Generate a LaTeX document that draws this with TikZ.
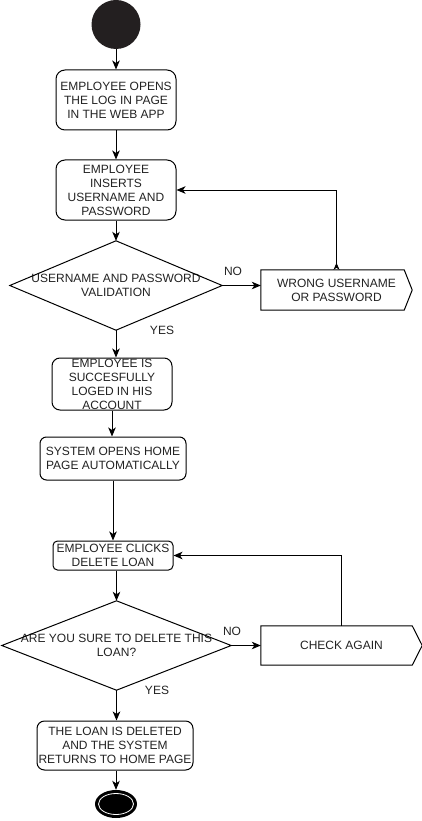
\documentclass[tikz,border=0pt]{standalone}
\usepackage{fontspec}
\setmainfont{Liberation Sans}
\usetikzlibrary{arrows.meta,calc,shapes.geometric}
\definecolor{startfill}{HTML}{231F20}
\definecolor{txt}{HTML}{222222}
\begin{document}
\begin{tikzpicture}[x=1pt,y=-1pt,
  every node/.style={font=\fontsize{12}{14}\selectfont, text=txt},
  act/.style={draw=black, line width=1pt, rounded corners=#1, align=center, inner sep=0pt},
  act/.default=8pt,
  shapebox/.style={align=center, inner sep=0pt},
  outline/.style={draw=black, line width=1pt, line join=miter},
  flow/.style={draw=black, line width=1pt, -{Stealth[length=9pt,width=7.5pt,inset=2.5pt]}},
  lbl/.style={inner sep=0pt}
]
\useasboundingbox (0,0) rectangle (422,821);

% start
\node[circle, fill=startfill, minimum size=49pt, inner sep=0pt] (start) at (116,24.5) {};

% activities
\node[act=9pt, minimum width=120pt, minimum height=60pt] (b1) at (116,100) {EMPLOYEE OPENS\\THE LOG IN PAGE\\IN THE WEB APP};
\node[act=9pt, minimum width=120pt, minimum height=60pt] (b2) at (116,190) {EMPLOYEE\\INSERTS\\USERNAME AND\\PASSWORD};

% decision 1
\node[shapebox, minimum width=212pt, minimum height=89pt] (d1) at (116,285.5) {USERNAME AND PASSWORD\\VALIDATION};
\draw[outline] (d1.north) -- (d1.east) -- (d1.south) -- (d1.west) -- cycle;

% wrong username
\node[shapebox, minimum width=151pt, minimum height=40pt] (w) at (336.5,290) {WRONG USERNAME\\OR PASSWORD};
\draw[outline] (w.north west) -- ([xshift=-8pt]w.north east) -- (w.east) -- ([xshift=-8pt]w.south east) -- (w.south west) -- cycle;

\node[act=8pt, minimum width=120pt, minimum height=52pt] (b3) at (112,384) {EMPLOYEE IS\\SUCCESFULLY\\LOGED IN HIS\\ACCOUNT};
\node[act=6.5pt, minimum width=146pt, minimum height=43pt] (b4) at (113,458.5) {SYSTEM OPENS HOME\\PAGE AUTOMATICALLY};
\node[act=4.5pt, minimum width=120pt, minimum height=29pt] (b5) at (113,555.5) {EMPLOYEE CLICKS\\DELETE LOAN};

% decision 2
\node[shapebox, minimum width=229pt, minimum height=89pt] (d2) at (116.5,645.5) {ARE YOU SURE TO DELETE THIS\\LOAN?};
\draw[outline] (d2.north) -- (d2.east) -- (d2.south) -- (d2.west) -- cycle;

% check again
\node[shapebox, minimum width=161pt, minimum height=39pt] (c) at (341.5,645.5) {CHECK AGAIN};
\draw[outline] (c.north west) -- ([xshift=-10pt]c.north east) -- (c.east) -- ([xshift=-10pt]c.south east) -- (c.south west) -- cycle;

\node[act=7.5pt, minimum width=156pt, minimum height=49pt] (b6) at (115,745.5) {THE LOAN IS DELETED\\AND THE SYSTEM\\RETURNS TO HOME PAGE};

% end
\node[ellipse, fill=black, minimum width=42pt, minimum height=28pt, inner sep=0pt] (end) at (116,804) {};
\draw[white, line width=0.8pt] (end.center) ellipse [x radius=17.5pt, y radius=10.5pt];

% labels
\node[lbl] (no1) at (233,271) {NO};
\node[lbl] (yes1) at (162,330) {YES};
\node[lbl] (no2) at (232,631) {NO};
\node[lbl] (yes2) at (157,690) {YES};

% connectors
\draw[flow] (start.south) -- (b1.north);
\draw[flow] (b1.south) -- (b2.north);
\draw[flow] (b2.south) -- (d1.north);
\draw[flow] (d1.east) -- (d1.east -| w.west);
\draw[flow, {Stealth[reversed,length=7pt,width=6pt,inset=2pt]}-{Stealth[length=9pt,width=7.5pt,inset=2.5pt]}] (w.north) |- (b2.east);
\draw[flow] (d1.south) -- (d1.south |- b3.north);
\draw[flow] (b3.south) -- (b3.south |- b4.north);
\draw[flow] (b4.south) -- (b4.south |- b5.north);
\draw[flow] (d2.north |- b5.south) -- (d2.north);
\draw[flow] (d2.east) -- (d2.east -| c.west);
\draw[flow] (c.north) |- (b5.east);
\draw[flow] (d2.south) -- (d2.south |- b6.north);
\draw[flow] (end.north |- b6.south) -- (end.north);
\end{tikzpicture}
\end{document}
